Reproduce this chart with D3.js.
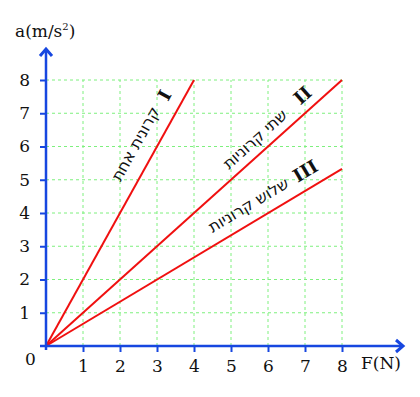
<!DOCTYPE html>
<html>
<head>
<meta charset="utf-8">
<script src="https://cdn.jsdelivr.net/npm/d3@7"></script>
<style>
  body { margin: 0; background: #fff; }
  .num { font-family: "DejaVu Serif", serif; font-size: 17px; fill: #111; }
  .heb { font-family: "DejaVu Sans", "Noto Sans", sans-serif; font-size: 16px; fill: #111; }
  .roman { font-family: "DejaVu Serif", serif; font-size: 18px; font-weight: bold; fill: #111; }
</style>
</head>
<body>
<svg id="chart"></svg>
<script>
// data
const xTicks = [1, 2, 3, 4, 5, 6, 7, 8];
const yTicks = [1, 2, 3, 4, 5, 6, 7, 8];
const lineNames = ["I", "II", "III"];
const lineLabels = ["קרונית אחת", "שתי קרוניות", "שלוש קרוניות"];
const lineEndF = [4, 8, 8];
const lineEndA = [8, 8, 5.33];
// label anchor points, in data units
const labelF = [2.55, 5.75, 5.55];
const labelA = [6.0, 6.1, 4.1];
const romanF = [3.35, 7.05, 7.1];
const romanA = [7.45, 7.4, 5.1];

const width = 420, height = 397;
const svg = d3.select("#chart").attr("width", width).attr("height", height);

const x = d3.scaleLinear().domain([0, 8]).range([46, 342]);
const y = d3.scaleLinear().domain([0, 8]).range([346, 80]);

// grid
const grid = svg.append("g")
  .attr("stroke", "#7ef07e")
  .attr("stroke-width", 1)
  .attr("stroke-dasharray", "3,3");
grid.selectAll("line.v").data(xTicks).join("line")
  .attr("class", "v")
  .attr("x1", d => x(d)).attr("x2", d => x(d))
  .attr("y1", y(0)).attr("y2", y(8));
grid.selectAll("line.h").data(yTicks).join("line")
  .attr("class", "h")
  .attr("x1", x(0)).attr("x2", x(8))
  .attr("y1", d => y(d)).attr("y2", d => y(d));

// lines
svg.selectAll("line.data").data(lineEndF).join("line")
  .attr("class", "data")
  .attr("x1", x(0)).attr("y1", y(0))
  .attr("x2", d => x(d)).attr("y2", (d, i) => y(lineEndA[i]))
  .attr("stroke", "#f01010")
  .attr("stroke-width", 2);

// axes
const blue = "#1747e0";
const xAxis = svg.append("g").attr("transform", "translate(0," + y(0) + ")")
  .call(d3.axisBottom(x).tickValues(xTicks).tickSize(6).tickPadding(8));
const yAxis = svg.append("g").attr("transform", "translate(" + x(0) + ",0)")
  .call(d3.axisLeft(y).tickValues(yTicks).tickSize(6).tickPadding(10));
[xAxis, yAxis].forEach(g => {
  g.attr("font-family", null).attr("font-size", null);
  g.select(".domain").remove();
  g.selectAll(".tick line").attr("stroke", blue).attr("stroke-width", 2);
  g.selectAll(".tick text").attr("class", "num").attr("fill", "#111");
});

svg.append("line")
  .attr("x1", x(0) - 6).attr("x2", 402)
  .attr("y1", y(0)).attr("y2", y(0))
  .attr("stroke", blue).attr("stroke-width", 2.5);
svg.append("line")
  .attr("x1", x(0)).attr("x2", x(0))
  .attr("y1", y(0) + 4).attr("y2", 51)
  .attr("stroke", blue).attr("stroke-width", 2.5);
// arrow heads
svg.append("path")
  .attr("d", `M396,${y(0) - 6} L403,${y(0)} L396,${y(0) + 6}`)
  .attr("fill", "none").attr("stroke", blue).attr("stroke-width", 3);
svg.append("path")
  .attr("d", `M${x(0) - 6},56 L${x(0)},49 L${x(0) + 6},56`)
  .attr("fill", "none").attr("stroke", blue).attr("stroke-width", 3);

// axis titles
const yTitle = svg.append("text").attr("class", "num").attr("x", 15).attr("y", 37);
yTitle.append("tspan").text("a(m/s");
yTitle.append("tspan").attr("dy", -7).style("font-size", "10px").text("2");
yTitle.append("tspan").attr("dy", 7).text(")");
svg.append("text").attr("class", "num").attr("x", 361).attr("y", 369).text("F(N)");
svg.append("text").attr("class", "num").attr("x", 25).attr("y", 365).text("0");

// line labels, rotated along each line
lineNames.forEach((name, i) => {
  const ang = Math.atan2(y(lineEndA[i]) - y(0), x(lineEndF[i]) - x(0)) * 180 / Math.PI;
  svg.append("text").attr("class", "heb")
    .attr("text-anchor", "middle")
    .attr("transform", `translate(${x(labelF[i])},${y(labelA[i])}) rotate(${ang})`)
    .text(lineLabels[i]);
  svg.append("text").attr("class", "roman")
    .attr("text-anchor", "middle")
    .attr("transform", `translate(${x(romanF[i])},${y(romanA[i])}) rotate(${ang})`)
    .text(name);
});
</script>
</body>
</html>
